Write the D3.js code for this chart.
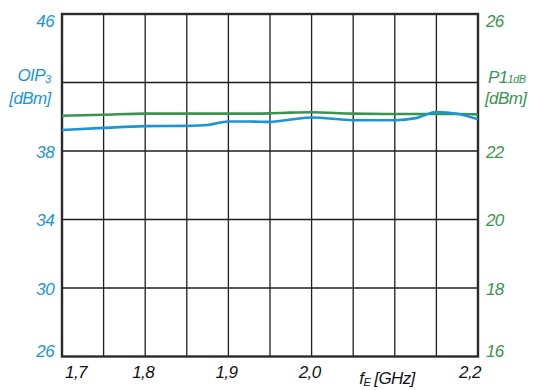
<!DOCTYPE html>
<html>
<head>
<meta charset="utf-8">
<script src="https://cdn.jsdelivr.net/npm/d3@7"></script>
<style>
  html, body { margin: 0; padding: 0; background: #fff; }
  text { font-family: "Liberation Sans", Arial, sans-serif; font-style: italic; letter-spacing: -0.6px; }
</style>
</head>
<body>
<div id="wrapper"></div>
<script>
// frequency in GHz
const freq = [1.70, 1.75, 1.80, 1.85, 1.875, 1.90, 1.925, 1.95, 1.975, 2.00, 2.05, 2.10, 2.125, 2.15, 2.175, 2.20];
// OIP3 [dBm], left axis
const oip3 = [39.23, 39.35, 39.45, 39.47, 39.52, 39.72, 39.72, 39.70, 39.84, 39.96, 39.80, 39.80, 39.92, 40.28, 40.18, 39.85];
// P1dB [dBm], right axis
const p1db = [23.03, 23.06, 23.09, 23.09, 23.09, 23.09, 23.09, 23.10, 23.12, 23.13, 23.09, 23.08, 23.08, 23.08, 23.08, 23.07];

const xTicks = [1.7, 1.8, 1.9, 2.0, 2.2];
const xGrid = d3.range(0, 11).map(i => 1.7 + i * 0.05);
const leftTicks = [46, 38, 34, 30, 26];
const leftGrid = [26, 30, 34, 38, 42, 46];
const rightTicks = [26, 22, 20, 18, 16];

function draw() {
  const width = 534, height = 390;
  const m = { top: 14, right: 56, bottom: 33.5, left: 62 };
  const blue = "#1a95d8", green = "#3a9450";

  const svg = d3.select("#wrapper").append("svg")
    .attr("width", width)
    .attr("height", height);

  const x = d3.scaleLinear().domain([1.7, 2.2]).range([m.left, width - m.right]);
  const yL = d3.scaleLinear().domain([26, 46]).range([height - m.bottom, m.top]);
  const yR = d3.scaleLinear().domain([16, 26]).range([height - m.bottom, m.top]);

  // grid
  const grid = svg.append("g").attr("stroke", "#1e1e1e").attr("stroke-width", 1.3);
  grid.selectAll(".vx")
    .data(xGrid.slice(1, -1))
    .enter()
    .append("line")
    .attr("x1", d => x(d)).attr("x2", d => x(d))
    .attr("y1", m.top).attr("y2", height - m.bottom);
  grid.selectAll(".hy")
    .data(leftGrid.slice(1, -1))
    .enter()
    .append("line")
    .attr("y1", d => yL(d)).attr("y2", d => yL(d))
    .attr("x1", m.left).attr("x2", width - m.right);

  // frame
  svg.append("rect")
    .attr("x", m.left).attr("y", m.top)
    .attr("width", width - m.left - m.right)
    .attr("height", height - m.top - m.bottom)
    .attr("fill", "none")
    .attr("stroke", "#2a2a2a")
    .attr("stroke-width", 2.4);

  // lines
  const lineL = d3.line().x((d, i) => x(freq[i])).y(d => yL(d)).curve(d3.curveMonotoneX);
  const lineR = d3.line().x((d, i) => x(freq[i])).y(d => yR(d)).curve(d3.curveMonotoneX);
  svg.append("path")
    .attr("d", lineR(p1db))
    .attr("fill", "none")
    .attr("stroke", green)
    .attr("stroke-width", 2.6);
  svg.append("path")
    .attr("d", lineL(oip3))
    .attr("fill", "none")
    .attr("stroke", blue)
    .attr("stroke-width", 2.6);

  const fs = 17;
  const vpos = (y, v, lo, hi) => v === hi ? y + 13 : v === lo ? y : y + 6.5;

  // left tick labels
  svg.append("g").selectAll("text")
    .data(leftTicks)
    .enter()
    .append("text")
    .attr("x", 54)
    .attr("y", d => vpos(yL(d), d, 26, 46))
    .attr("text-anchor", "end")
    .attr("fill", blue)
    .attr("font-size", fs)
    .text(d => d);

  // right tick labels
  svg.append("g").selectAll("text")
    .data(rightTicks)
    .enter()
    .append("text")
    .attr("x", 486)
    .attr("y", d => vpos(yR(d), d, 16, 26))
    .attr("text-anchor", "start")
    .attr("fill", green)
    .attr("font-size", fs)
    .text(d => d);

  // bottom tick labels
  svg.append("g").selectAll("text")
    .data(xTicks)
    .enter()
    .append("text")
    .attr("x", d => d === 1.7 ? x(d) + 14 : d === 2.2 ? x(d) - 8 : x(d) - 2)
    .attr("y", 378)
    .attr("text-anchor", "middle")
    .attr("fill", "#111")
    .attr("font-size", fs)
    .text(d => d.toFixed(1).replace(".", ","));

  // x axis title
  const xt = svg.append("text")
    .attr("x", 387).attr("y", 384)
    .attr("text-anchor", "middle")
    .attr("fill", "#111")
    .attr("font-size", fs);
  xt.append("tspan").text("f");
  xt.append("tspan").attr("font-size", 11).attr("dy", 2).text("E");
  xt.append("tspan").attr("dy", -2).text(" [GHz]");

  // left axis title
  const lt = svg.append("text")
    .attr("x", 34).attr("y", 81)
    .attr("text-anchor", "middle")
    .attr("fill", blue)
    .attr("font-size", fs);
  lt.append("tspan").text("OIP");
  lt.append("tspan").attr("font-size", 11).attr("dy", 2).text("3");
  svg.append("text")
    .attr("x", 30).attr("y", 104)
    .attr("text-anchor", "middle")
    .attr("fill", blue)
    .attr("font-size", fs)
    .text("[dBm]");

  // right axis title
  const rt = svg.append("text")
    .attr("x", 488).attr("y", 83)
    .attr("text-anchor", "start")
    .attr("fill", green)
    .attr("font-size", fs);
  rt.append("tspan").text("P1");
  rt.append("tspan").attr("font-size", 11).text("1dB");
  svg.append("text")
    .attr("x", 485).attr("y", 104)
    .attr("text-anchor", "start")
    .attr("fill", green)
    .attr("font-size", fs)
    .text("[dBm]");
}
draw();
</script>
</body>
</html>
